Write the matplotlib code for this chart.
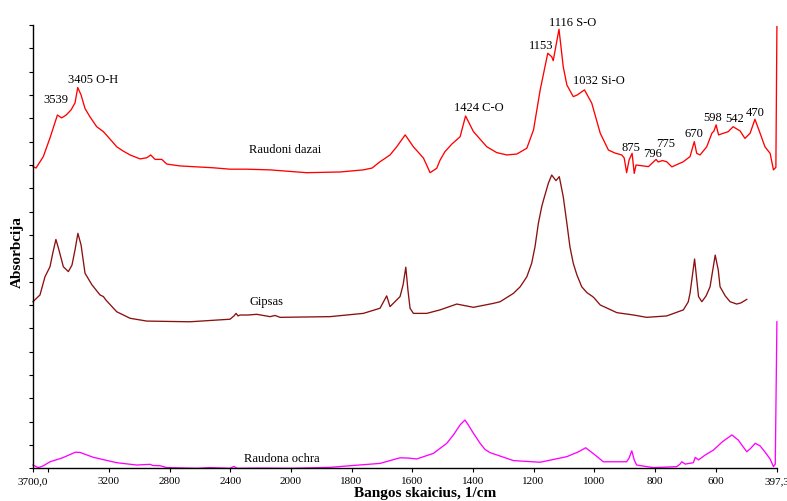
import numpy as np
import matplotlib
matplotlib.use("Agg")
import matplotlib.pyplot as plt

plt.rcParams["font.family"] = ["Liberation Serif", "DejaVu Serif"]

# ---- spectra (wavenumber, 1/cm ; absorbance in offset units) ----
red_wn = [3700, 3680, 3632, 3588, 3539, 3511, 3482, 3449, 3423, 3405, 3383, 3357,
          3324, 3280, 3236, 3192, 3148, 3106, 3060, 2994, 2950, 2924, 2895, 2851,
          2818, 2731, 2511, 2401, 2291, 2137, 1948, 1838, 1761, 1732, 1706, 1673,
          1651, 1623, 1596, 1563, 1551, 1541, 1519, 1508, 1492, 1469, 1442, 1424,
          1398, 1354, 1321, 1288, 1255, 1222, 1200, 1178, 1153, 1140, 1135, 1116,
          1102, 1090, 1069, 1056, 1032, 1008, 980, 953, 931, 909, 901, 893, 885,
          875, 868, 862, 821, 796, 789, 775, 761, 744, 706, 690, 684, 670, 662,
          651, 629, 612, 605, 598, 590, 558, 542, 519, 503, 486, 470, 453, 437,
          420, 409, 401, 397.6]
red_abs = [12.93, 12.87, 13.36, 14.16, 15.14, 15.02, 15.14, 15.36, 15.66, 16.32, 16.0, 15.42,
           15.06, 14.64, 14.43, 14.11, 13.78, 13.60, 13.43, 13.26, 13.31, 13.43, 13.24, 13.24,
           13.04, 12.96, 12.88, 12.82, 12.82, 12.79, 12.67, 12.70, 12.79, 12.87, 13.14, 13.43,
           13.78, 14.29, 13.78, 13.30, 12.96, 12.67, 12.86, 13.21, 13.57, 13.90, 14.21, 15.10,
           14.43, 13.78, 13.53, 13.43, 13.47, 13.72, 14.50, 16.22, 17.79, 17.64, 17.47, 18.82,
           17.21, 16.43, 15.93, 16.00, 16.22, 15.65, 14.36, 13.64, 13.51, 13.43, 13.30, 12.67, 13.21,
           13.50, 12.64, 13.00, 12.93, 13.24, 13.13, 13.19, 13.14, 12.92, 13.14, 13.30, 13.36, 14.00, 13.50,
           13.43, 13.78, 14.36, 14.46, 14.72, 14.29, 14.43, 14.64, 14.46, 14.14, 14.36, 14.96, 14.36, 13.78,
           13.50, 12.79, 12.90, 18.93]

gyp_wn = [3700, 3654, 3621, 3588, 3568, 3549, 3529, 3500, 3467, 3443, 3423, 3404,
          3383, 3357, 3311, 3258, 3236, 3219, 3148, 3060, 2950, 2665, 2401, 2375,
          2361, 2348, 2335, 2282, 2225, 2137, 2104, 2071, 1871, 1761, 1706, 1684,
          1673, 1640, 1630, 1621, 1614, 1607, 1596, 1552, 1508, 1453, 1398, 1332,
          1310, 1266, 1244, 1222, 1206, 1195, 1184, 1173, 1167, 1151, 1140, 1126,
          1115, 1102, 1090, 1080, 1069, 1057, 1041, 1024, 1005, 1000, 980, 925,
          870, 827, 761, 706, 690, 684, 669, 656, 645, 631, 618, 601, 591, 585,
          568, 552, 530, 516, 497]
gyp_abs = [7.14, 7.43, 8.21, 8.64, 9.27, 9.81, 9.36, 8.64, 8.43, 8.71, 9.36, 10.07,
           9.57, 8.36, 7.86, 7.43, 7.36, 7.21, 6.71, 6.43, 6.31, 6.28, 6.39, 6.53,
           6.64, 6.53, 6.57, 6.57, 6.60, 6.50, 6.55, 6.47, 6.50, 6.64, 6.86, 7.39,
           6.93, 7.36, 7.86, 8.62, 7.64, 6.86, 6.64, 6.64, 6.79, 7.04, 6.90, 7.07,
           7.14, 7.50, 7.78, 8.21, 8.79, 9.50, 10.50, 11.21, 11.50, 12.22, 12.57, 12.33,
           12.50, 11.64, 10.50, 9.50, 8.79, 8.29, 7.78, 7.53, 7.36, 7.30, 7.00, 6.67,
           6.57, 6.47, 6.53, 6.79, 7.13, 7.50, 8.97, 7.36, 7.14, 7.39, 7.78, 9.14, 8.50, 7.78,
           7.39, 7.14, 7.04, 7.09, 7.24]

ochre_wn = [3700, 3665, 3634, 3588, 3509, 3420, 3390, 3302, 3148, 3016, 2928,
            2909, 2862, 2818, 2621, 2533, 2401, 2375, 2355, 2203, 2005, 1871, 1805,
            1706, 1640, 1614, 1585, 1530, 1486, 1464, 1442, 1426, 1415, 1398, 1376,
            1360, 1343, 1266, 1178, 1090, 1053, 1028, 997, 970, 893, 885, 876, 868,
            860, 805, 766, 728, 717, 711, 700, 673, 667, 656, 634, 607, 578, 546, 525,
            497, 486, 469, 453, 437, 420, 409, 403, 397.6]
ochre_abs = [0.14, 0.03, 0.10, 0.28, 0.44, 0.69, 0.68, 0.47, 0.24, 0.14, 0.17,
             0.12, 0.11, 0.03, 0.00, 0.03, 0.00, 0.08, 0.00, 0.01, 0.00, 0.04, 0.11,
             0.21, 0.45, 0.44, 0.40, 0.64, 1.07, 1.43, 1.86, 2.07, 1.86, 1.50, 1.07,
             0.81, 0.67, 0.33, 0.26, 0.50, 0.70, 0.88, 0.57, 0.28, 0.28, 0.44, 0.75, 0.36,
             0.14, 0.03, 0.05, 0.07, 0.18, 0.28, 0.18, 0.24, 0.47, 0.36, 0.57, 0.78, 1.13, 1.43, 1.21,
             0.71, 0.83, 1.07, 0.96, 0.70, 0.40, 0.07, 0.18, 6.28]

series_names = ["Raudoni dazai", "Gipsas", "Raudona ochra"]
series_colors = ["#ff0000", "#8b1010", "#ff00ff"]

peak_labels = ["3539", "3405 O-H", "1424 C-O", "1153", "1116 S-O", "1032 Si-O",
               "875", "796", "775", "670", "598", "542", "470"]

xtick_values = [3700, 3600, 3200, 2800, 2400, 2000, 1800, 1600, 1400, 1200, 1000, 800, 600, 397.3]
xtick_labels = ["3700,0", "", "3200", "2800", "2400", "2000", "1800", "1600", "1400",
                "1200", "1000", "800", "600", "397,3"]


# compressed scale above 2000 1/cm (half the density of the low-wavenumber region)
def fwd(x):
    x = np.asarray(x, dtype=float)
    return np.where(x > 2000, 2000 + (x - 2000) * 0.5, x)


def inv(t):
    t = np.asarray(t, dtype=float)
    return np.where(t > 2000, 2000 + (t - 2000) * 2.0, t)


fig = plt.figure(figsize=(7.87, 5.01), dpi=100)
ax = fig.add_axes([33 / 787, 1 - 468.3 / 501, 744 / 787, 443.3 / 501])
ax.set_xscale("function", functions=(fwd, inv))

for wn, ab, col in [(red_wn, red_abs, series_colors[0]),
                    (gyp_wn, gyp_abs, series_colors[1]),
                    (ochre_wn, ochre_abs, series_colors[2])]:
    ax.plot(wn, ab, color=col, lw=0.95, clip_on=False, solid_joinstyle="round")

ax.set_xlim(3700, 397.3)
ax.set_ylim(0, 19)

ax.set_xticks(xtick_values)
ax.set_xticklabels(xtick_labels, fontsize=8)
ax.xaxis.set_minor_locator(matplotlib.ticker.NullLocator())
ax.set_yticks(np.arange(0, 20))
ax.set_yticklabels([])
ax.tick_params(axis="both", direction="out", length=3.2, width=0.8, pad=3)

for side in ("top", "right"):
    ax.spines[side].set_visible(False)
for side in ("left", "bottom"):
    ax.spines[side].set_linewidth(1.0)

# peak annotations
peak_pos = [(3546, 15.65), (3302, 16.53), (1380, 15.33), (1174, 17.97), (1071, 18.97),
            (986, 16.47), (878, 13.61), (808, 13.36), (765, 13.78), (672, 14.19),
            (608, 14.90), (537, 14.86), (470, 15.11)]
for txt, (x, y) in zip(peak_labels, peak_pos):
    ax.text(x, y, txt, ha="center", va="baseline", fontsize=9, clip_on=False)

name_pos = [(2038, 13.5), (2159, 7.0), (2058, 0.28)]
for txt, (x, y) in zip(series_names, name_pos):
    ax.text(x, y, txt, ha="center", va="baseline", fontsize=9)

fig.text(424.7 / 787, 1 - 497 / 501, "Bangos skaicius, 1/cm", ha="center",
         va="baseline", fontsize=11, fontweight="bold")
fig.text(17.5 / 787, 1 - 252.5 / 501, "Absorbcija", ha="center", va="center",
         rotation=90, fontsize=11, fontweight="bold")

fig.savefig("out.png", dpi=100)
